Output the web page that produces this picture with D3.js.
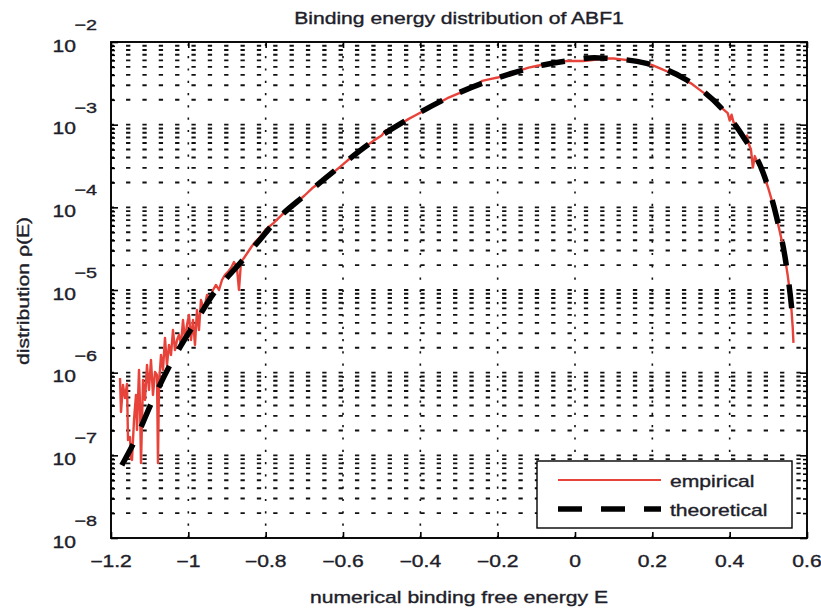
<!DOCTYPE html>
<html><head><meta charset="utf-8">
<script src="https://cdn.jsdelivr.net/npm/d3@7"></script>
<style>html,body{margin:0;padding:0;background:#fff;} svg{display:block;}</style>
</head><body>
<svg id="chart" width="821" height="608"></svg>
<script>
// ---------------- data ----------------
const chartTitle = "Binding energy distribution of ABF1";
const xLabel = "numerical binding free energy E";
const yLabel = "distribution \u03C1(E)";
const xTicks = [-1.2, -1, -0.8, -0.6, -0.4, -0.2, 0, 0.2, 0.4, 0.6];
const xTickLabels = ["\u22121.2", "\u22121", "\u22120.8", "\u22120.6", "\u22120.4", "\u22120.2", "0", "0.2", "0.4", "0.6"];
const yExponents = [-2, -3, -4, -5, -6, -7, -8];
const seriesNames = ["empirical", "theoretical"];

// empirical: energy E and log10 of distribution
const empE = [
  -1.1767, -1.1741, -1.1690, -1.1638, -1.1586, -1.1560, -1.1509, -1.1483, -1.1457, -1.1405,
  -1.1354, -1.1328, -1.1276, -1.1250, -1.1224, -1.1172, -1.1121, -1.1069, -1.1017, -1.0966,
  -1.0914, -1.0862, -1.0810, -1.0785, -1.0759, -1.0707, -1.0655, -1.0604, -1.0552, -1.0500,
  -1.0448, -1.0397, -1.0345, -1.0293, -1.0241, -1.0190, -1.0138, -1.0086, -1.0035, -0.9983,
  -0.9931, -0.9879, -0.9828, -0.9776, -0.9724, -0.9673, -0.9595, -0.9517, -0.9440, -0.9362,
  -0.9285, -0.9207, -0.9130, -0.9052, -0.8974, -0.8897, -0.8819, -0.8742, -0.8690, -0.8638,
  -0.8561, -0.8457, -0.8354, -0.8250, -0.8147,
  -0.80, -0.78, -0.76, -0.74, -0.72, -0.70, -0.68, -0.66, -0.64, -0.62,
  -0.60, -0.58, -0.56, -0.54, -0.52, -0.50, -0.49, -0.47, -0.45, -0.43,
  -0.41, -0.39, -0.37, -0.35, -0.33, -0.31, -0.29, -0.27, -0.25, -0.24,
  -0.22, -0.20, -0.18, -0.16, -0.14, -0.12, -0.10, -0.08, -0.06, -0.04,
  -0.02, 0.00, 0.02, 0.04, 0.06, 0.08, 0.10, 0.12, 0.14, 0.16,
  0.18, 0.20, 0.22, 0.24, 0.26, 0.28, 0.30, 0.32, 0.34, 0.36,
  0.38, 0.395, 0.40, 0.405, 0.41, 0.42, 0.43, 0.44, 0.445, 0.45,
  0.455, 0.46, 0.465, 0.47, 0.48, 0.49, 0.50, 0.51, 0.52, 0.53,
  0.54, 0.55, 0.555, 0.56, 0.563, 0.565
];
const empLog10 = [
  -6.064, -6.476, -6.149, -6.306, -6.137, -6.814, -6.778, -7.044, -7.056, -6.572,
  -6.270, -6.693, -5.967, -6.391, -7.092, -6.088, -6.330, -5.907, -6.209, -5.847,
  -6.270, -5.992, -6.028, -7.092, -6.149, -5.786, -5.967, -5.580, -5.907, -5.665,
  -5.786, -5.484, -5.726, -5.605, -5.544, -5.665, -5.363, -5.605, -5.423, -5.302,
  -5.605, -5.363, -5.665, -5.242, -5.484, -5.121, -5.242, -5.060, -5.121, -5.000,
  -4.939, -5.000, -4.879, -4.818, -4.782, -4.734, -4.661, -4.734, -5.000, -4.661,
  -4.613, -4.540, -4.468, -4.407, -4.359,
  -4.27, -4.19, -4.10, -4.00, -3.94, -3.86, -3.77, -3.70, -3.63, -3.56,
  -3.48, -3.40, -3.33, -3.26, -3.19, -3.13, -3.07, -3.05, -2.99, -2.93,
  -2.88, -2.83, -2.78, -2.73, -2.68, -2.64, -2.60, -2.56, -2.51, -2.47,
  -2.45, -2.43, -2.40, -2.37, -2.34, -2.31, -2.29, -2.27, -2.25, -2.24,
  -2.23, -2.23, -2.23, -2.22, -2.21, -2.20, -2.20, -2.21, -2.22, -2.23,
  -2.25, -2.28, -2.32, -2.36, -2.40, -2.45, -2.50, -2.57, -2.64, -2.72,
  -2.80, -2.86, -2.95, -2.88, -2.97, -3.01, -3.09, -3.17, -3.13, -3.24,
  -3.30, -3.52, -3.38, -3.44, -3.52, -3.63, -3.77, -3.93, -4.10, -4.30,
  -4.52, -4.82, -5.00, -5.25, -5.45, -5.64
];

// theoretical: energy E and log10 of distribution
const theoE = [
  -1.172, -1.135, -1.091, -1.042, -0.978, -0.931, -0.900, -0.859, -0.822, -0.763,
  -0.703, -0.603, -0.530, -0.435, -0.323, -0.203, -0.082, -0.005, 0.050, 0.082,
  0.185, 0.289, 0.383, 0.435, 0.487, 0.521, 0.547, 0.560, 0.563
];
const theoLog10 = [
  -7.12, -6.79, -6.32, -5.86, -5.363, -5.02, -4.85, -4.637, -4.431, -4.113,
  -3.871, -3.488, -3.225, -2.944, -2.662, -2.439, -2.278, -2.218, -2.19, -2.197,
  -2.258, -2.460, -2.823, -3.146, -3.588, -4.113, -4.718, -5.202, -5.35
];

// ---------------- drawing ----------------
const W = 821, H = 608;
const L = 111, R = 807, T = 42, B = 538;
const FONT = "'Liberation Sans', Arial, Helvetica, sans-serif";
const TXT = "#1e1e2a";
const SX = 1.32;

const svg = d3.select("#chart");
svg.append("rect").attr("width", W).attr("height", H).attr("fill", "#fff");

const x = d3.scaleLinear().domain([-1.2, 0.6]).range([L, R]);
const y = d3.scaleLog().domain([1e-8, 1e-2]).range([B, T]);

function label(sel, px, py, s, opt = {}) {
  return sel.append("text")
    .attr("transform", `translate(${px},${py})${opt.rotate ? ` rotate(${opt.rotate})` : ""} scale(${SX},1)`)
    .attr("text-anchor", opt.anchor || "start")
    .attr("font-family", FONT)
    .attr("font-size", opt.size || 16)
    .attr("fill", TXT)
    .attr("stroke", TXT)
    .attr("stroke-width", 0.35)
    .text(s);
}

svg.append("defs").append("clipPath").attr("id", "clip")
  .append("rect").attr("x", L).attr("y", T).attr("width", R - L).attr("height", B - T);

const plot = svg.append("g").attr("clip-path", "url(#clip)");

// horizontal grid rows (major + minor log values)
const rowVals = [];
const minorVals = [];
for (let k = -8; k <= -3; k++) {
  for (let m = 1; m <= 9; m++) {
    const v = m * Math.pow(10, k);
    if (k === -8 && m === 1) continue;
    rowVals.push(v);
    if (m !== 1) minorVals.push(v);
  }
}
plot.append("g").selectAll("line").data(rowVals).join("line")
  .attr("x1", L - 1.3).attr("x2", R)
  .attr("y1", d => y(d)).attr("y2", d => y(d))
  .attr("stroke", "#111").attr("stroke-width", 1.9)
  .attr("stroke-dasharray", "4.3,12.05");

// vertical grid at major x ticks
plot.append("g").selectAll("line").data(xTicks.slice(1, -1)).join("line")
  .attr("x1", d => x(d)).attr("x2", d => x(d))
  .attr("y1", B).attr("y2", T)
  .attr("stroke", "#111").attr("stroke-width", 1.6)
  .attr("stroke-dasharray", "2.2,10.1");

const empData = empE.map((e, i) => [e, Math.pow(10, empLog10[i])]);
const theoData = theoE.map((e, i) => [e, Math.pow(10, theoLog10[i])]);

plot.append("path").datum(empData)
  .attr("d", d3.line().x(d => x(d[0])).y(d => y(d[1])))
  .attr("fill", "none").attr("stroke", "#e8433a").attr("stroke-width", 2.4)
  .attr("stroke-linejoin", "round");

plot.append("path").datum(theoData)
  .attr("d", d3.line().curve(d3.curveMonotoneX).x(d => x(d[0])).y(d => y(d[1])))
  .attr("fill", "none").attr("stroke", "#000").attr("stroke-width", 5.5)
  .attr("stroke-dasharray", "24,19");

// axes ticks
const axG = svg.append("g").attr("fill", "none");
const noFmt = () => "";
axG.append("g").attr("transform", `translate(0,${B})`)
  .call(d3.axisBottom(x).tickValues(xTicks).tickSizeInner(-6).tickSizeOuter(0).tickFormat(noFmt));
axG.append("g").attr("transform", `translate(0,${T})`)
  .call(d3.axisTop(x).tickValues(xTicks).tickSizeInner(-6).tickSizeOuter(0).tickFormat(noFmt));
const majorY = yExponents.map(e => Math.pow(10, e));
axG.append("g").attr("transform", `translate(${L},0)`)
  .call(d3.axisLeft(y).tickValues(majorY).tickSizeInner(-7).tickSizeOuter(0).tickFormat(noFmt));
axG.append("g").attr("transform", `translate(${R},0)`)
  .call(d3.axisRight(y).tickValues(majorY).tickSizeInner(-7).tickSizeOuter(0).tickFormat(noFmt));
axG.append("g").attr("transform", `translate(${L},0)`)
  .call(d3.axisLeft(y).tickValues(minorVals).tickSizeInner(-4).tickSizeOuter(0).tickFormat(noFmt));
axG.append("g").attr("transform", `translate(${R},0)`)
  .call(d3.axisRight(y).tickValues(minorVals).tickSizeInner(-4).tickSizeOuter(0).tickFormat(noFmt));
axG.selectAll(".domain").remove();
axG.selectAll(".tick line").attr("stroke", "#000").attr("stroke-width", 1.6);

// box
svg.append("rect").attr("x", L).attr("y", T).attr("width", R - L).attr("height", B - T)
  .attr("fill", "none").attr("stroke", "#000").attr("stroke-width", 1.9);

// x tick labels
xTicks.forEach((v, i) => label(svg, x(v), 567, xTickLabels[i], { anchor: "middle" }));

// y tick labels: 10^k
yExponents.forEach(e => {
  const py = y(Math.pow(10, e));
  label(svg, 76, py + 9.5, "10", { anchor: "end" });
  label(svg, 74.5, py - 12, "\u2212" + Math.abs(e), { anchor: "start", size: 15 });
});

// titles
label(svg, 459, 24, chartTitle, { anchor: "middle" });
label(svg, 459, 603, xLabel, { anchor: "middle" });
label(svg, 29, 291, yLabel, { anchor: "middle", rotate: -90 });

// legend
const lg = svg.append("g");
lg.append("rect").attr("x", 537).attr("y", 461).attr("width", 255).attr("height", 67)
  .attr("fill", "#fff").attr("stroke", "#000").attr("stroke-width", 1.4);
lg.append("line").attr("x1", 558).attr("x2", 661).attr("y1", 480).attr("y2", 480)
  .attr("stroke", "#e8433a").attr("stroke-width", 2.2);
lg.append("line").attr("x1", 558).attr("x2", 661).attr("y1", 509).attr("y2", 509)
  .attr("stroke", "#000").attr("stroke-width", 5.5).attr("stroke-dasharray", "24,19");
label(lg, 670, 487, seriesNames[0]);
label(lg, 670, 516, seriesNames[1]);
</script>
</body></html>
